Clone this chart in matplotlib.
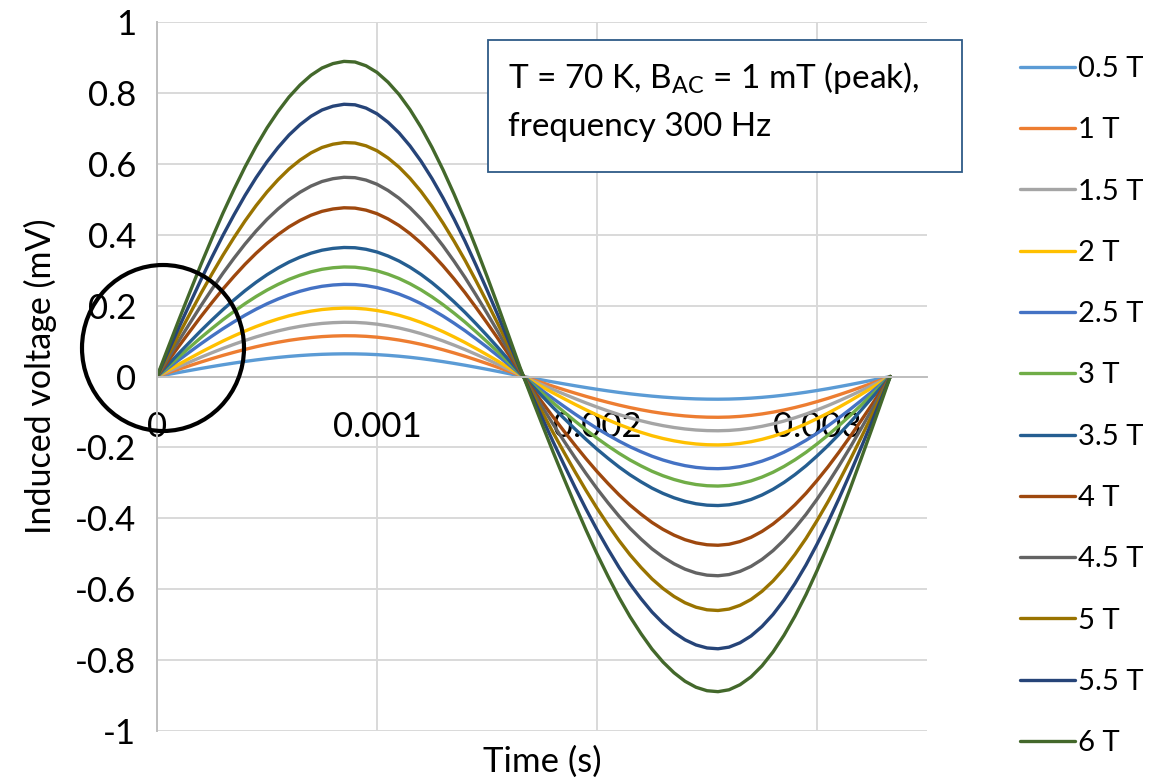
import numpy as np
import matplotlib
matplotlib.use("Agg")
import matplotlib.pyplot as plt
from matplotlib.patches import Ellipse, Rectangle

plt.rcParams["font.family"] = ["Lato", "DejaVu Sans"]
plt.rcParams["mathtext.fontset"] = "custom"
plt.rcParams["mathtext.rm"] = "Lato"

# pick-up coil signal over one period at 300 Hz
time_ms = [0.00, 0.05, 0.10, 0.15, 0.20, 0.25, 0.30, 0.35, 0.40, 0.45,
           0.50, 0.55, 0.60, 0.65, 0.70, 0.75, 0.80, 0.85, 0.90, 0.95,
           1.00, 1.05, 1.10, 1.15, 1.20, 1.25, 1.30, 1.35, 1.40, 1.45,
           1.50, 1.55, 1.60, 1.65, 1.70, 1.75, 1.80, 1.85, 1.90, 1.95,
           2.00, 2.05, 2.10, 2.15, 2.20, 2.25, 2.30, 2.35, 2.40, 2.45,
           2.50, 2.55, 2.60, 2.65, 2.70, 2.75, 2.80, 2.85, 2.90, 2.95,
           3.00, 3.05, 3.10, 3.15, 3.20, 3.25, 3.30, 3.333]
# normalised waveform (peak = 1)
waveform = [0.000, 0.091, 0.181, 0.269, 0.356, 0.439, 0.519, 0.594, 0.665, 0.730,
            0.789, 0.841, 0.887, 0.925, 0.956, 0.979, 0.993, 1.000, 0.998, 0.986,
            0.965, 0.934, 0.895, 0.847, 0.791, 0.727, 0.656, 0.579, 0.497, 0.409,
            0.318, 0.224, 0.127, 0.029, -0.062, -0.151, -0.239, -0.324, -0.407, -0.487,
            -0.563, -0.634, -0.701, -0.762, -0.816, -0.865, -0.906, -0.940, -0.967, -0.986,
            -0.997, -1.000, -0.994, -0.978, -0.953, -0.918, -0.874, -0.821, -0.760, -0.692,
            -0.616, -0.535, -0.448, -0.357, -0.262, -0.165, -0.066, 0.000]

fields = ["0.5 T", "1 T", "1.5 T", "2 T", "2.5 T", "3 T",
          "3.5 T", "4 T", "4.5 T", "5 T", "5.5 T", "6 T"]
peak_mv = [0.064, 0.115, 0.153, 0.193, 0.260, 0.309,
           0.364, 0.476, 0.562, 0.660, 0.768, 0.889]
colors = ["#5B9BD5", "#ED7D31", "#A5A5A5", "#FFC000", "#4472C4", "#70AD47",
          "#255E91", "#9E480E", "#636363", "#997300", "#264478", "#43682B"]

x_ticks = [0.0, 0.001, 0.002, 0.003]
x_ticklabels = ["0", "0.001", "0.002", "0.003"]
y_ticks = [-1.0, -0.8, -0.6, -0.4, -0.2, 0.0, 0.2, 0.4, 0.6, 0.8, 1.0]
y_ticklabels = ["-1", "-0.8", "-0.6", "-0.4", "-0.2", "0",
                "0.2", "0.4", "0.6", "0.8", "1"]

t = np.array(time_ms) / 1000.0
shape = np.array(waveform)

fig = plt.figure(figsize=(11.64, 7.81), dpi=100)
ax = fig.add_axes([0.1349, 0.0640, 0.6615, 0.9078])

grid_c = "#D9D9D9"
axis_c = "#BFBFBF"

handles = []
for lab, amp, c in zip(fields, peak_mv, colors):
    h, = ax.plot(t, amp * shape, color=c, lw=2.4, solid_capstyle="round",
                 solid_joinstyle="round", label=lab)
    handles.append(h)

ax.set_xlim(0, 0.0035)
ax.set_ylim(-1, 1)
ax.set_xticks(x_ticks)
ax.set_xticklabels(x_ticklabels)
ax.set_yticks(y_ticks)
ax.set_yticklabels(y_ticklabels)
ax.grid(True, color=grid_c, lw=1.4)
ax.set_axisbelow(True)

for s in ("top", "right"):
    ax.spines[s].set_visible(False)
ax.spines["bottom"].set_position(("data", 0))
ax.spines["bottom"].set_color(axis_c)
ax.spines["bottom"].set_linewidth(1.4)
ax.spines["left"].set_color(axis_c)
ax.spines["left"].set_linewidth(1.4)

ax.tick_params(axis="both", length=0, labelsize=25, colors="black")
ax.tick_params(axis="x", pad=25)
ax.tick_params(axis="y", pad=15)

ax.set_xlabel("Time (s)", fontsize=25, va="top")
ax.xaxis.set_label_coords(0.5, -0.02)
ax.set_ylabel("Induced voltage (mV)", fontsize=24.5)
ax.yaxis.set_label_coords(-0.13, 0.5)

# annotation box with measurement conditions
box = Rectangle((488 / 1164, 1 - 172 / 781), (962 - 488) / 1164, (172 - 40) / 781,
                transform=fig.transFigure, facecolor="white",
                edgecolor="#2E5A87", lw=1.3, zorder=5)
fig.add_artist(box)
fig.text(508 / 1164, 1 - 78 / 781, r"T = 70 K, B$_{\mathrm{AC}}$ = 1 mT (peak),",
         fontsize=24, va="center", ha="left", zorder=6)
fig.text(508 / 1164, 1 - 127 / 781, "frequency 300 Hz",
         fontsize=24, va="center", ha="left", zorder=6)

# circle marking the start of the waveform
ring = Ellipse((163 / 1164, 1 - 348 / 781), 162 / 1164, 166 / 781,
               transform=fig.transFigure, fill=False, edgecolor="black",
               lw=3.0, zorder=7)
fig.add_artist(ring)

fig.legend(handles=handles, labels=fields, loc="upper left",
           bbox_to_anchor=(1020 / 1164, 1 - 56 / 781), frameon=False,
           fontsize=21, handlelength=1.9, handletextpad=0.08,
           labelspacing=1.21, borderpad=0, borderaxespad=0)

fig.savefig("out.png", dpi=100)
